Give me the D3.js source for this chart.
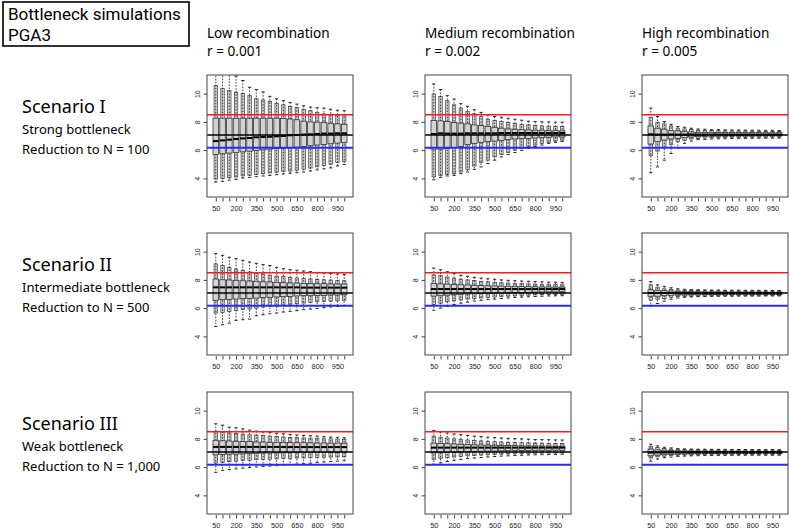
<!DOCTYPE html>
<html><head><meta charset="utf-8">
<script src="https://cdn.jsdelivr.net/npm/d3@7"></script>
<style>body{margin:0;background:#fff}svg{display:block}</style>
</head><body><svg id="c" width="790" height="532"></svg>
<script>
// ---------- data ----------
const sizes = [50,100,150,200,250,300,350,400,450,500,550,600,650,700,750,800,850,900,950,1000];
const xLabelSizes = [50,200,350,500,650,800,950];
const yTicks = [4,6,8,10];
const yLimits = [3,11];
const redLevel = 8.5, blackLevel = 7.07, blueLevel = 6.17;
const titleLines = ["Bottleneck simulations","PGA3"];
const columnTitles = ["Low recombination","Medium recombination","High recombination"];
const columnRates = ["r = 0.001","r = 0.002","r = 0.005"];
const scenarioTitles = ["Scenario I","Scenario II","Scenario III"];
const scenarioTypes = ["Strong bottleneck","Intermediate bottleneck","Weak bottleneck"];
const scenarioReductions = ["Reduction to N = 100","Reduction to N = 500","Reduction to N = 1,000"];

// Scenario I, low recombination
const s1Low_max = [11.9,11.7,11.5,11.24,10.93,10.45,10.29,10.12,9.81,9.64,9.5,9.38,9.26,9.14,9.05,9.0,8.98,8.9,8.83,8.79];
const s1Low_hi  = [10.57,10.36,10.21,10.1,10.0,9.86,9.64,9.55,9.45,9.31,9.21,9.1,9.02,8.9,8.79,8.67,8.57,8.5,8.45,8.43];
const s1Low_q3  = [8.26,8.26,8.26,8.26,8.26,8.26,8.26,8.26,8.26,8.26,8.24,8.2,8.15,8.05,8.0,7.98,7.95,7.9,7.86,7.83];
const s1Low_med = [6.64,6.69,6.74,6.79,6.83,6.86,6.91,6.93,6.95,6.98,7.0,7.05,7.07,7.1,7.12,7.14,7.17,7.17,7.19,7.19];
const s1Low_q1  = [5.69,5.74,5.79,5.83,5.88,5.93,5.98,6.02,6.07,6.12,6.14,6.17,6.21,6.26,6.31,6.36,6.4,6.45,6.5,6.55];
const s1Low_lo  = [3.95,3.98,4.05,4.1,4.18,4.22,4.28,4.33,4.38,4.43,4.48,4.52,4.58,4.65,4.73,4.82,4.9,5.0,5.12,5.2];
const s1Low_min = [3.74,3.79,3.88,3.93,4.02,4.07,4.12,4.17,4.21,4.26,4.31,4.36,4.4,4.45,4.52,4.6,4.67,4.74,4.88,4.98];
// Scenario I, medium recombination
const s1Med_max = [10.69,10.29,9.86,9.62,9.29,9.1,8.86,8.67,8.5,8.38,8.33,8.26,8.19,8.12,8.05,8.02,8.0,8.0,7.98,7.98];
const s1Med_hi  = [9.98,9.79,9.5,9.21,8.98,8.74,8.57,8.36,8.19,8.1,8.02,7.95,7.88,7.83,7.79,7.76,7.71,7.69,7.67,7.67];
const s1Med_q3  = [8.1,8.07,8.02,7.95,7.91,7.86,7.79,7.74,7.67,7.62,7.55,7.5,7.48,7.45,7.43,7.41,7.41,7.38,7.38,7.36];
const s1Med_med = [7.14,7.19,7.17,7.17,7.17,7.19,7.19,7.19,7.19,7.19,7.21,7.21,7.21,7.21,7.21,7.21,7.21,7.21,7.21,7.21];
const s1Med_q1  = [6.07,6.07,6.12,6.19,6.26,6.4,6.48,6.55,6.6,6.64,6.69,6.74,6.79,6.81,6.83,6.86,6.88,6.91,6.93,6.93];
const s1Med_lo  = [4.1,4.21,4.29,4.33,4.45,4.62,4.88,5.12,5.29,5.52,5.69,5.83,6.0,6.12,6.24,6.36,6.48,6.55,6.64,6.71];
const s1Med_min = [3.9,4.07,4.17,4.21,4.33,4.45,4.64,4.81,5.05,5.29,5.52,5.69,5.83,5.98,6.12,6.26,6.36,6.48,6.55,6.62];
// Scenario I, high recombination
const s1High_max = [8.98,8.38,8.02,7.83,7.67,7.62,7.55,7.5,7.48,7.45,7.45,7.44,7.43,7.43,7.42,7.41,7.41,7.4,7.4,7.39];
const s1High_hi  = [8.33,7.98,7.86,7.71,7.55,7.5,7.45,7.41,7.38,7.38,7.37,7.36,7.36,7.35,7.35,7.34,7.34,7.33,7.33,7.33];
const s1High_q3  = [7.71,7.55,7.48,7.38,7.36,7.31,7.29,7.26,7.26,7.26,7.25,7.25,7.25,7.24,7.24,7.24,7.24,7.23,7.23,7.23];
const s1High_med = [7.12,7.1,7.1,7.11,7.1,7.1,7.11,7.1,7.1,7.1,7.1,7.1,7.1,7.1,7.1,7.1,7.1,7.1,7.1,7.1];
const s1High_q1  = [6.43,6.6,6.71,6.79,6.83,6.88,6.93,6.95,6.98,6.98,6.99,6.99,7.0,7.0,7.0,7.0,7.01,7.01,7.01,7.01];
const s1High_lo  = [5.6,5.93,6.17,6.4,6.6,6.69,6.79,6.83,6.86,6.88,6.89,6.9,6.9,6.91,6.91,6.92,6.92,6.92,6.93,6.93];
const s1High_min = [4.4,4.81,5.29,5.76,6.17,6.48,6.64,6.74,6.76,6.79,6.8,6.81,6.82,6.83,6.83,6.84,6.84,6.85,6.85,6.85];
// Scenario II, low recombination
const s2Low_max = [9.86,9.74,9.6,9.5,9.39,9.27,9.17,9.08,9.01,8.89,8.79,8.72,8.68,8.63,8.58,8.53,8.49,8.46,8.42,8.39];
const s2Low_hi  = [9.13,9.01,8.89,8.77,8.68,8.56,8.49,8.42,8.34,8.27,8.23,8.18,8.13,8.09,8.06,8.04,8.01,7.99,7.97,7.94];
const s2Low_q3  = [8.06,8.01,7.99,7.97,7.94,7.92,7.9,7.87,7.85,7.83,7.8,7.78,7.78,7.75,7.75,7.73,7.73,7.71,7.71,7.71];
const s2Low_med = [7.47,7.47,7.47,7.47,7.47,7.47,7.47,7.47,7.47,7.47,7.47,7.47,7.47,7.45,7.45,7.45,7.45,7.45,7.45,7.45];
const s2Low_q1  = [6.55,6.6,6.62,6.64,6.67,6.69,6.71,6.74,6.76,6.79,6.81,6.83,6.86,6.88,6.88,6.9,6.9,6.93,6.93,6.95];
const s2Low_lo  = [5.65,5.7,5.77,5.84,5.89,5.93,6.0,6.08,6.12,6.17,6.22,6.27,6.31,6.36,6.41,6.45,6.48,6.5,6.52,6.55];
const s2Low_min = [4.7,4.82,4.94,5.13,5.18,5.22,5.46,5.53,5.6,5.65,5.72,5.77,5.82,5.89,5.93,5.98,6.03,6.08,6.12,6.17];
// Scenario II, medium recombination
const s2Med_max = [8.84,8.72,8.58,8.45,8.32,8.25,8.18,8.13,8.08,8.04,8.0,7.97,7.94,7.92,7.9,7.88,7.86,7.84,7.83,7.82];
const s2Med_hi  = [8.35,8.3,8.2,8.12,8.05,8.0,7.95,7.9,7.87,7.84,7.8,7.78,7.76,7.74,7.72,7.7,7.69,7.68,7.67,7.66];
const s2Med_q3  = [7.75,7.72,7.7,7.68,7.66,7.64,7.62,7.6,7.58,7.57,7.56,7.55,7.54,7.53,7.52,7.51,7.5,7.5,7.49,7.49];
const s2Med_med = [7.35,7.35,7.35,7.35,7.35,7.35,7.35,7.35,7.35,7.35,7.35,7.35,7.35,7.35,7.35,7.35,7.35,7.35,7.35,7.35];
const s2Med_q1  = [6.85,6.88,6.92,6.95,6.98,7.0,7.02,7.04,7.06,7.07,7.08,7.09,7.1,7.11,7.12,7.13,7.14,7.15,7.15,7.16];
const s2Med_lo  = [6.25,6.35,6.45,6.52,6.58,6.64,6.68,6.72,6.76,6.79,6.82,6.85,6.87,6.89,6.91,6.93,6.95,6.96,6.97,6.98];
const s2Med_min = [5.85,6.0,6.12,6.25,6.35,6.42,6.5,6.55,6.6,6.64,6.68,6.72,6.75,6.78,6.8,6.82,6.84,6.86,6.87,6.88];
// Scenario II, high recombination
const s2High_max = [7.88,7.65,7.54,7.44,7.37,7.33,7.31,7.3,7.29,7.28,7.28,7.27,7.27,7.27,7.26,7.26,7.26,7.26,7.25,7.25];
const s2High_hi  = [7.65,7.49,7.37,7.33,7.28,7.26,7.25,7.24,7.23,7.23,7.22,7.22,7.22,7.21,7.21,7.21,7.21,7.2,7.2,7.2];
const s2High_q3  = [7.3,7.26,7.23,7.21,7.19,7.16,7.16,7.16,7.15,7.15,7.15,7.15,7.14,7.14,7.14,7.14,7.14,7.13,7.13,7.13];
const s2High_med = [7.07,7.07,7.07,7.07,7.05,7.05,7.05,7.05,7.05,7.05,7.05,7.05,7.05,7.05,7.05,7.05,7.05,7.05,7.05,7.05];
const s2High_q1  = [6.84,6.84,6.88,6.91,6.93,6.93,6.94,6.94,6.95,6.95,6.95,6.95,6.96,6.96,6.96,6.96,6.96,6.97,6.97,6.97];
const s2High_lo  = [6.56,6.63,6.67,6.77,6.81,6.84,6.85,6.86,6.87,6.88,6.88,6.88,6.89,6.89,6.89,6.9,6.9,6.9,6.9,6.9];
const s2High_min = [6.16,6.33,6.49,6.63,6.72,6.77,6.79,6.81,6.82,6.83,6.84,6.84,6.84,6.85,6.85,6.85,6.85,6.86,6.86,6.86];
// Scenario III, low recombination
const s3Low_max = [9.07,8.97,8.83,8.79,8.71,8.62,8.55,8.5,8.45,8.4,8.36,8.32,8.28,8.25,8.22,8.19,8.16,8.13,8.11,8.08];
const s3Low_hi  = [8.55,8.48,8.43,8.38,8.34,8.29,8.27,8.24,8.2,8.17,8.14,8.11,8.09,8.07,8.05,8.03,8.01,8.0,7.98,7.97];
const s3Low_q3  = [7.9,7.87,7.85,7.83,7.81,7.81,7.78,7.78,7.76,7.76,7.75,7.74,7.73,7.73,7.72,7.71,7.71,7.7,7.7,7.69];
const s3Low_med = [7.43,7.43,7.43,7.43,7.43,7.43,7.43,7.43,7.43,7.43,7.42,7.42,7.42,7.42,7.42,7.42,7.42,7.42,7.42,7.42];
const s3Low_q1  = [6.87,6.89,6.92,6.92,6.94,6.96,6.96,6.99,7.0,7.0,7.01,7.02,7.03,7.03,7.04,7.05,7.05,7.06,7.06,7.07];
const s3Low_lo  = [6.29,6.33,6.38,6.42,6.47,6.49,6.52,6.54,6.56,6.58,6.6,6.62,6.64,6.65,6.67,6.68,6.7,6.71,6.72,6.73];
const s3Low_min = [5.63,5.77,5.82,5.87,5.93,5.97,6.01,6.05,6.08,6.11,6.15,6.18,6.21,6.24,6.28,6.32,6.36,6.39,6.42,6.45];
// Scenario III, medium recombination
const s3Med_max = [8.6,8.5,8.42,8.35,8.3,8.25,8.2,8.16,8.12,8.09,8.06,8.04,8.02,8.0,7.98,7.96,7.95,7.94,7.93,7.92];
const s3Med_hi  = [8.2,8.12,8.06,8.0,7.96,7.92,7.88,7.85,7.82,7.8,7.78,7.76,7.74,7.73,7.72,7.71,7.7,7.69,7.68,7.68];
const s3Med_q3  = [7.7,7.68,7.66,7.64,7.62,7.6,7.58,7.57,7.56,7.55,7.54,7.53,7.52,7.51,7.5,7.5,7.49,7.49,7.48,7.48];
const s3Med_med = [7.38,7.38,7.38,7.38,7.38,7.38,7.38,7.38,7.38,7.38,7.38,7.38,7.38,7.38,7.38,7.38,7.38,7.38,7.38,7.38];
const s3Med_q1  = [7.0,7.02,7.04,7.06,7.08,7.1,7.11,7.12,7.13,7.14,7.15,7.16,7.17,7.17,7.18,7.18,7.19,7.19,7.2,7.2];
const s3Med_lo  = [6.55,6.62,6.68,6.72,6.76,6.8,6.83,6.86,6.88,6.9,6.92,6.94,6.95,6.96,6.97,6.98,6.99,7.0,7.0,7.01];
const s3Med_min = [6.2,6.3,6.4,6.48,6.55,6.6,6.64,6.68,6.72,6.75,6.78,6.8,6.82,6.84,6.86,6.87,6.88,6.89,6.9,6.91];
// Scenario III, high recombination
const s3High_max = [7.62,7.5,7.41,7.36,7.31,7.29,7.28,7.27,7.27,7.26,7.26,7.26,7.25,7.25,7.25,7.25,7.24,7.24,7.24,7.24];
const s3High_hi  = [7.45,7.38,7.31,7.27,7.24,7.23,7.22,7.22,7.21,7.21,7.21,7.2,7.2,7.2,7.2,7.2,7.19,7.19,7.19,7.19];
const s3High_q3  = [7.27,7.22,7.2,7.17,7.15,7.15,7.14,7.14,7.14,7.13,7.13,7.13,7.13,7.13,7.12,7.12,7.12,7.12,7.12,7.12];
const s3High_med = [7.03,7.04,7.04,7.04,7.04,7.04,7.04,7.04,7.04,7.04,7.04,7.04,7.04,7.04,7.04,7.04,7.04,7.04,7.04,7.04];
const s3High_q1  = [6.8,6.85,6.88,6.9,6.92,6.93,6.94,6.94,6.95,6.95,6.95,6.95,6.95,6.96,6.96,6.96,6.96,6.96,6.96,6.96];
const s3High_lo  = [6.64,6.73,6.78,6.82,6.85,6.86,6.87,6.88,6.88,6.89,6.89,6.89,6.89,6.9,6.9,6.9,6.9,6.9,6.9,6.9];
const s3High_min = [6.42,6.57,6.66,6.71,6.76,6.78,6.8,6.81,6.82,6.82,6.83,6.83,6.83,6.84,6.84,6.84,6.84,6.84,6.84,6.84];

const panels = [
  {row:0,col:0,max:s1Low_max,hi:s1Low_hi,q3:s1Low_q3,med:s1Low_med,q1:s1Low_q1,lo:s1Low_lo,min:s1Low_min},
  {row:0,col:1,max:s1Med_max,hi:s1Med_hi,q3:s1Med_q3,med:s1Med_med,q1:s1Med_q1,lo:s1Med_lo,min:s1Med_min},
  {row:0,col:2,max:s1High_max,hi:s1High_hi,q3:s1High_q3,med:s1High_med,q1:s1High_q1,lo:s1High_lo,min:s1High_min},
  {row:1,col:0,max:s2Low_max,hi:s2Low_hi,q3:s2Low_q3,med:s2Low_med,q1:s2Low_q1,lo:s2Low_lo,min:s2Low_min},
  {row:1,col:1,max:s2Med_max,hi:s2Med_hi,q3:s2Med_q3,med:s2Med_med,q1:s2Med_q1,lo:s2Med_lo,min:s2Med_min},
  {row:1,col:2,max:s2High_max,hi:s2High_hi,q3:s2High_q3,med:s2High_med,q1:s2High_q1,lo:s2High_lo,min:s2High_min},
  {row:2,col:0,max:s3Low_max,hi:s3Low_hi,q3:s3Low_q3,med:s3Low_med,q1:s3Low_q1,lo:s3Low_lo,min:s3Low_min},
  {row:2,col:1,max:s3Med_max,hi:s3Med_hi,q3:s3Med_q3,med:s3Med_med,q1:s3Med_q1,lo:s3Med_lo,min:s3Med_min},
  {row:2,col:2,max:s3High_max,hi:s3High_hi,q3:s3High_q3,med:s3High_med,q1:s3High_q1,lo:s3High_lo,min:s3High_min}
];

// ---------- layout ----------
const svg = d3.select("#c");
const colLeft = [207, 425, 642];
const rowTop = [75, 233, 392];
const pw = 146, ph = 122;
const font = "'Noto Sans', 'Open Sans', sans-serif";
const tickFont = "'Liberation Sans', Arial, sans-serif";

// title box
svg.append("rect").attr("x",3).attr("y",2).attr("width",186).attr("height",44)
  .attr("fill","#fff").attr("stroke","#000").attr("stroke-width",1.6);
const tt = svg.append("text").attr("font-family","Roboto, 'Noto Sans', sans-serif").attr("font-size",17).attr("fill","#000");
titleLines.forEach((t,i)=>tt.append("tspan").attr("x",8).attr("y",20+i*20.5).text(t));

// column headers
columnTitles.forEach((t,i)=>{
  svg.append("text").attr("x",colLeft[i]).attr("y",38).attr("font-family",font)
    .attr("font-size",13.6).attr("fill","#000").text(t);
  svg.append("text").attr("x",colLeft[i]).attr("y",56).attr("font-family",font)
    .attr("font-size",13.6).attr("fill","#000").text(columnRates[i]);
});

// row labels
scenarioTitles.forEach((t,i)=>{
  const top = rowTop[i];
  svg.append("text").attr("x",22).attr("y",top+38).attr("font-family",font)
    .attr("font-size",18).attr("fill","#000").text(t);
  svg.append("text").attr("x",22).attr("y",top+59).attr("font-family",font)
    .attr("font-size",13).attr("fill","#000").text(scenarioTypes[i]);
  svg.append("text").attr("x",22).attr("y",top+79).attr("font-family",font)
    .attr("font-size",13).attr("fill","#000").text(scenarioReductions[i]);
});

const n = sizes.length;
const yExt = (yLimits[1]-yLimits[0])*0.04;
const xExt = n*0.04;

panels.forEach((p,pi)=>{
  const left = colLeft[p.col], top = rowTop[p.row];
  const x = d3.scaleLinear().domain([0.5-xExt, n+0.5+xExt]).range([left, left+pw]);
  const y = d3.scaleLinear().domain([yLimits[0]-yExt, yLimits[1]+yExt]).range([top+ph, top]);
  const clipId = "clip"+pi;
  svg.append("clipPath").attr("id",clipId).append("rect")
    .attr("x",left).attr("y",top).attr("width",pw).attr("height",ph);
  const g = svg.append("g").attr("clip-path",`url(#${clipId})`);
  const wn = 1.7, ww = 2.8, wc = 1.6;
  const idx = d3.range(n);
  g.selectAll("rect.outer").data(idx).join("rect").attr("class","outer")
    .attr("x",i=>x(i+1)-wn).attr("width",wn*2)
    .attr("y",i=>y(p.hi[i])).attr("height",i=>y(p.lo[i])-y(p.hi[i]))
    .attr("fill","#d6d6d6").attr("stroke","#3a3a3a").attr("stroke-width",0.7);
  g.selectAll("line.wh").data(idx).join("line").attr("class","wh")
    .attr("x1",i=>x(i+1)).attr("x2",i=>x(i+1))
    .attr("y1",i=>y(p.max[i])).attr("y2",i=>y(p.min[i]))
    .attr("stroke","#111").attr("stroke-width",0.8).attr("stroke-dasharray","1.6,1.4");
  ["max","min"].forEach(k=>{
    g.selectAll("line.cap"+k).data(idx).join("line").attr("class","cap"+k)
      .attr("x1",i=>x(i+1)-wc).attr("x2",i=>x(i+1)+wc)
      .attr("y1",i=>y(p[k][i])).attr("y2",i=>y(p[k][i]))
      .attr("stroke","#111").attr("stroke-width",0.9);
  });
  g.selectAll("rect.iqr").data(idx).join("rect").attr("class","iqr")
    .attr("x",i=>x(i+1)-ww).attr("width",ww*2)
    .attr("y",i=>y(p.q3[i])).attr("height",i=>y(p.q1[i])-y(p.q3[i]))
    .attr("fill","#d3d3d3").attr("stroke","#333").attr("stroke-width",0.8);
  g.selectAll("line.med").data(idx).join("line").attr("class","med")
    .attr("x1",i=>x(i+1)-ww).attr("x2",i=>x(i+1)+ww)
    .attr("y1",i=>y(p.med[i])).attr("y2",i=>y(p.med[i]))
    .attr("stroke","#000").attr("stroke-width",2);
  [[redLevel,"#ff1a1a",1.5],[blackLevel,"#000",1.5],[blueLevel,"#2a2aff",2]].forEach(([v,c,w])=>{
    g.append("line").attr("x1",left).attr("x2",left+pw).attr("y1",y(v)).attr("y2",y(v))
      .attr("stroke",c).attr("stroke-width",w);
  });
  svg.append("rect").attr("x",left).attr("y",top).attr("width",pw).attr("height",ph)
    .attr("fill","none").attr("stroke","#444").attr("stroke-width",1);
  const ya = svg.append("g").attr("transform",`translate(${left},0)`)
    .call(d3.axisLeft(y).tickValues(yTicks).tickSize(3.5).tickSizeOuter(0).tickFormat(d3.format("d")));
  ya.select(".domain").remove();
  ya.selectAll("line").attr("stroke","#444");
  ya.selectAll("text").attr("transform","rotate(-90)").attr("x",0).attr("y",-7).attr("dy",0)
    .attr("text-anchor","middle").attr("font-family",tickFont).attr("font-size",7).attr("fill","#222");
  const xa = svg.append("g").attr("transform",`translate(0,${top+ph+1})`)
    .call(d3.axisBottom(x).tickValues(d3.range(1,n+1)).tickSize(3.5).tickSizeOuter(0)
      .tickFormat(d=>xLabelSizes.includes(sizes[d-1]) ? String(sizes[d-1]) : ""));
  xa.select(".domain").remove();
  xa.selectAll("line").attr("stroke","#444");
  xa.selectAll("text").attr("y",8).attr("font-family",tickFont).attr("font-size",7.3).attr("fill","#222");
});
</script>
</body></html>
